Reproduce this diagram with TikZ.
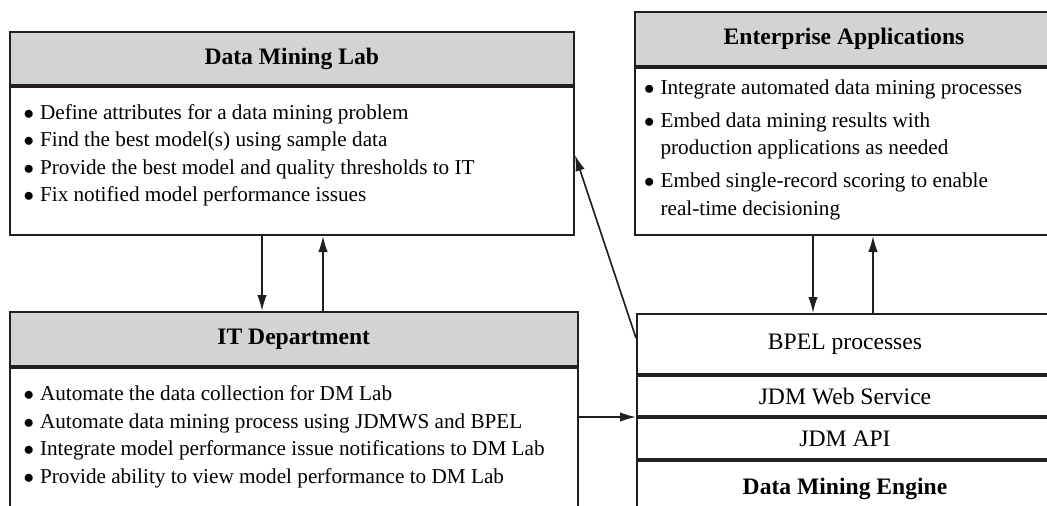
\documentclass[tikz,border=0pt]{standalone}
\usepackage{fontspec}
\setmainfont{Liberation Serif}
\usetikzlibrary{arrows.meta,calc}
\definecolor{boxline}{HTML}{231F20}
\definecolor{headgray}{HTML}{D1D3D4}

\newcommand{\bodyfont}{\fontsize{21.2}{27.5}\selectfont}
\newcommand{\headfont}{\fontsize{23.6}{28}\selectfont\bfseries}
\newcommand{\layerfont}{\fontsize{23.6}{28}\selectfont}
\newcommand{\itemdot}{$\bullet$}

\begin{document}
\begin{tikzpicture}[x=1pt, y=-1pt,
  panel/.style={draw=boxline, line width=2pt, anchor=north west, inner sep=0pt},
  headbar/.style={panel, fill=headgray, font=\headfont},
  layer/.style={panel, font=\layerfont},
  itemlist/.style={anchor=north west, inner sep=0pt, font=\bodyfont, align=left},
  link/.style={draw=boxline, line width=1.6pt, -{Latex[length=16pt, width=9.5pt]}}
]

  % Page frame
  \useasboundingbox (0,0) rectangle (1047,506);
  \clip (0,0) rectangle (1047,506);

  % Data Mining Lab
  \node[headbar, minimum width=564.5pt, minimum height=53pt] (labhead) at (8.5,31) {Data Mining Lab};
  \node[panel, minimum width=564.5pt, minimum height=148pt] (labbody) at (labhead.south west) {};
  \node[itemlist] (lablist) at ([shift={(15,13.75)}]labbody.north west) {%
    \begin{tabular}{@{}l@{\hspace{6pt}}l@{}}
      \itemdot & Define attributes for a data mining problem\\
      \itemdot & Find the best model(s) using sample data\\
      \itemdot & Provide the best model and quality thresholds to IT\\
      \itemdot & Fix notified model performance issues
    \end{tabular}};

  % Enterprise Applications
  \node[headbar, minimum width=418pt, minimum height=54pt] (apphead) at (634,11) {Enterprise Applications};
  \node[panel, minimum width=418pt, minimum height=167pt] (appbody) at (apphead.south west) {};
  \node[itemlist] (applist) at ([shift={(10,7.75)}]appbody.north west) {%
    \begin{tabular}{@{}l@{\hspace{6pt}}l@{}}
      \itemdot & Integrate automated data mining processes\\[5.5pt]
      \itemdot & Embed data mining results with\\
               & production applications as needed\\[5.5pt]
      \itemdot & Embed single-record scoring to enable\\
               & real-time decisioning
    \end{tabular}};

  % IT Department
  \node[headbar, minimum width=568.5pt, minimum height=54pt] (ithead) at (8.5,311) {IT Department};
  \node[panel, minimum width=568.5pt, minimum height=150pt] (itbody) at (ithead.south west) {};
  \node[itemlist] (itlist) at ([shift={(15,14.5)}]itbody.north west) {%
    \begin{tabular}{@{}l@{\hspace{6pt}}l@{}}
      \itemdot & Automate the data collection for DM Lab\\
      \itemdot & Automate data mining process using JDMWS and BPEL\\
      \itemdot & Integrate model performance issue notifications to DM Lab\\
      \itemdot & Provide ability to view model performance to DM Lab
    \end{tabular}};

  % Engine stack
  \node[layer, minimum width=416pt, minimum height=60pt] (bpel) at (636,313) {BPEL processes};
  \node[layer, minimum width=416pt, minimum height=40pt] (jdmws) at (bpel.south west) {JDM Web Service};
  \node[layer, minimum width=416pt, minimum height=41pt] (jdmapi) at (jdmws.south west) {JDM API};
  \node[layer, minimum width=416pt, minimum height=56pt, font=\layerfont\bfseries] (engine) at (jdmapi.south west) {Data Mining Engine};

  % Arrow columns
  \coordinate (labdown) at (262,0);
  \coordinate (labup) at (323,0);
  \coordinate (appdown) at (813,0);
  \coordinate (appup) at (873,0);

  \draw[link] (labbody.south -| labdown) -- (ithead.north -| labdown);
  \draw[link] (ithead.north -| labup) -- (labbody.south -| labup);
  \draw[link] (appbody.south -| appdown) -- (bpel.north -| appdown);
  \draw[link] (bpel.north -| appup) -- (appbody.south -| appup);
  \draw[link] ([yshift=6pt]bpel.west) -- ([yshift=6pt]labbody.east);
  \draw[link] (itbody.east |- jdmapi.north west) -- (jdmapi.north west);

\end{tikzpicture}
\end{document}
